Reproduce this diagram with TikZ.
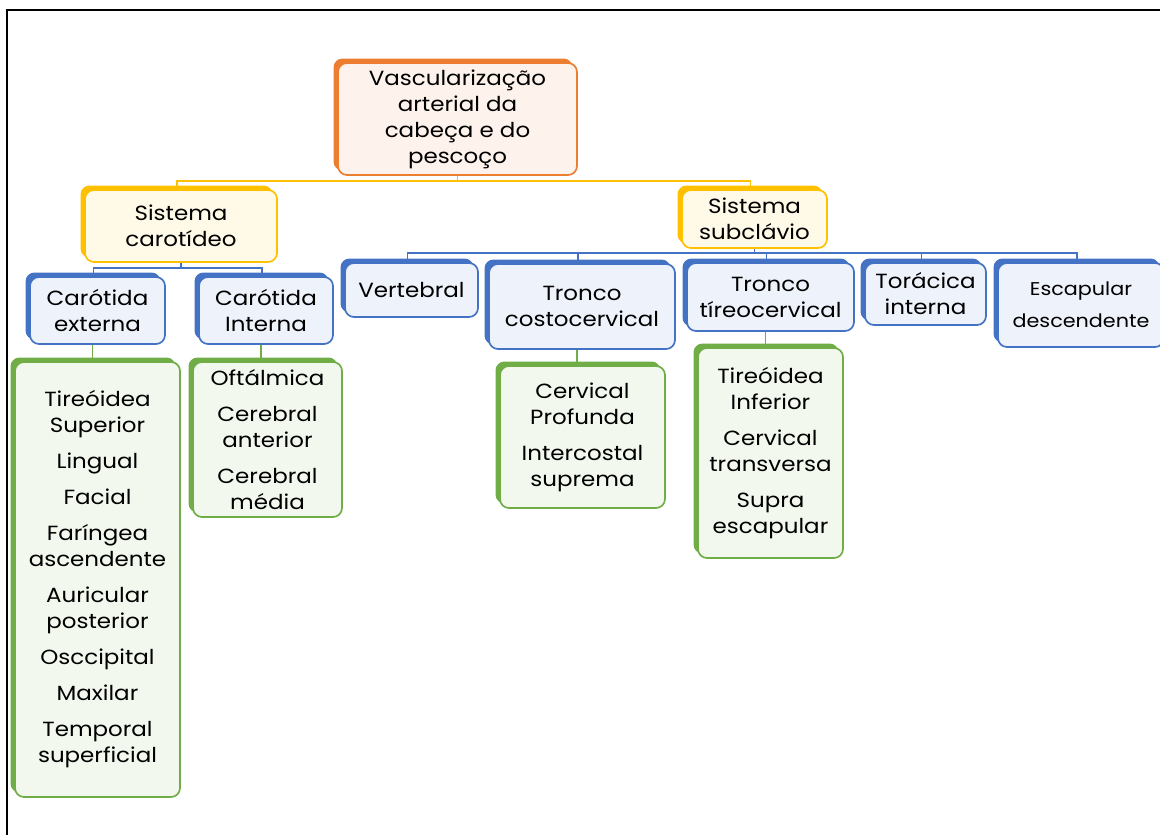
\documentclass[tikz,border=0pt]{standalone}
\usepackage{fontspec}
\setmainfont[FakeStretch=1.12]{Poppins}
\usetikzlibrary{backgrounds}

\definecolor{vascline}{HTML}{ED7D31}
\definecolor{sysline}{HTML}{FFC000}
\definecolor{artline}{HTML}{4472C4}
\definecolor{ramline}{HTML}{70AD47}

\begin{document}
\begin{tikzpicture}[x=1pt,y=-1pt,
  box/.style={rectangle, rounded corners=9pt, draw=#1, line width=1.7pt, fill=#1!9,
    align=center, inner sep=2pt, text=black,
    preaction={fill=#1, transform canvas={shift={(-4.5pt,4.5pt)}}},
    font=\fontsize{20.5}{26}\selectfont},
  conn/.style={draw=#1, line width=1.8pt}]

\useasboundingbox (0,0) rectangle (1160,835);
\draw[line width=1.5pt] (7,835) -- (7,10) -- (1160,10);

\node[box=vascline, minimum width=239pt, minimum height=112pt] (vasc) at (457.5,119) {Vascularização\\arterial da\\cabeça e do\\pescoço};

\node[box=sysline, minimum width=192pt, minimum height=72pt] (carot) at (181,226) {Sistema\\carotídeo};
\node[box=sysline, minimum width=145pt, minimum height=58pt] (subcl) at (754.5,219) {Sistema\\subclávio};

\node[box=artline, minimum width=135pt, minimum height=67pt] (cext) at (97.5,310.5) {Carótida\\externa};
\node[box=artline, minimum width=134pt, minimum height=67pt] (cint) at (266,310.5) {Carótida\\Interna};
\node[box=artline, minimum width=133pt, minimum height=54pt] (vert) at (411.5,290) {Vertebral};
\node[box=artline, minimum width=186pt, minimum height=85pt] (tcost) at (582,306.5) {Tronco\\costocervical};
\node[box=artline, minimum width=167pt, minimum height=68pt] (ttireo) at (770.5,297) {Tronco\\tíreocervical};
\node[box=artline, minimum width=121pt, minimum height=62pt] (torac) at (925.5,294) {Torácica\\interna};
\node[box=artline, minimum width=166pt, minimum height=84pt, font=\fontsize{18.5}{32}\selectfont] (escap) at (1081,305) {Escapular\\descendente};

\node[box=ramline, minimum width=165pt, minimum height=435pt] (lext) at (97.5,579.5) {Tireóidea\\Superior\\[10pt]Lingual\\[10pt]Facial\\[10pt]Faríngea\\ascendente\\[10pt]Auricular\\posterior\\[10pt]Osccipital\\[10pt]Maxilar\\[10pt]Temporal\\superficial};
\node[box=ramline, minimum width=149pt, minimum height=155pt] (lint) at (267.5,439.5) {Oftálmica\\[10pt]Cerebral\\anterior\\[10pt]Cerebral\\média};
\node[box=ramline, minimum width=165pt, minimum height=142pt] (lcost) at (582.5,437) {Cervical\\Profunda\\[10pt]Intercostal\\suprema};
\node[box=ramline, minimum width=145pt, minimum height=210pt] (ltireo) at (770.5,453) {Tireóidea\\Inferior\\[10pt]Cervical\\transversa\\[10pt]Supra\\escapular};

\begin{scope}[on background layer]
\draw[conn=sysline] (vasc.south) -- ++(0,5) coordinate (yjoin);
\draw[conn=sysline] ([xshift=-4pt]carot.north) -- ([xshift=-4pt]carot.north |- yjoin) -- ([xshift=-4pt]subcl.north |- yjoin) -- ([xshift=-4pt]subcl.north);
\draw[conn=artline] (carot.south) -- ++(0,5) coordinate (cjoin);
\draw[conn=artline] ([xshift=-4pt]cext.north) -- ([xshift=-4pt]cext.north |- cjoin) -- ([xshift=-4pt]cint.north |- cjoin) -- ([xshift=-4pt]cint.north);
\draw[conn=artline] (subcl.south) -- ++(0,4) coordinate (sjoin);
\draw[conn=artline] ([xshift=-4pt]vert.north) -- ([xshift=-4pt]vert.north |- sjoin) -- ([xshift=-4pt]escap.north |- sjoin) -- ([xshift=-4pt]escap.north);
\foreach \n in {tcost,ttireo,torac}
  \draw[conn=artline] ([xshift=-4pt]\n.north) -- ([xshift=-4pt]\n.north |- sjoin);
\foreach \a/\b in {cext/lext,cint/lint,tcost/lcost,ttireo/ltireo}
  \draw[conn=ramline] ([xshift=-5pt]\a.south) -- ([xshift=-5pt]\a.south |- \b.north);
\end{scope}

\end{tikzpicture}
\end{document}
